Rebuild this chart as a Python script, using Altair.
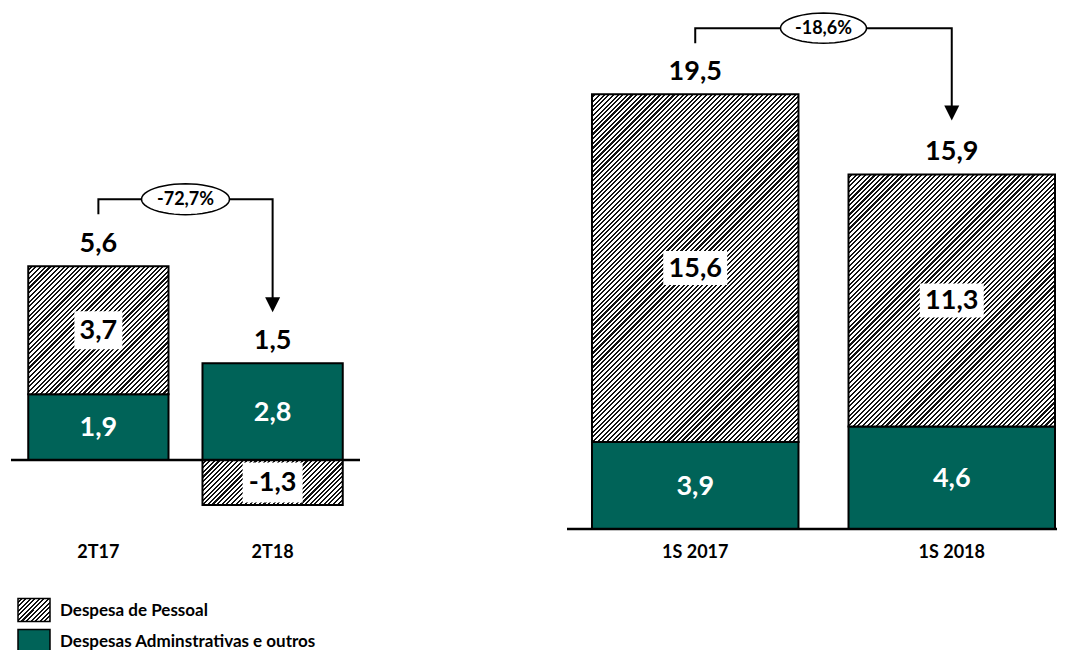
import math
import altair as alt
import pandas as pd

# ---------------- data ----------------
CATS_Q = ["2T17", "2T18"]
ADM_Q = [1.9, 2.8]
PES_Q = [3.7, -1.3]
TOT_Q = [5.6, 1.5]
PCT_Q = "-72,7%"

CATS_S = ["1S 2017", "1S 2018"]
ADM_S = [3.9, 4.6]
PES_S = [15.6, 11.3]
TOT_S = [19.5, 15.9]
PCT_S = "-18,6%"

S_PES = "Despesa de Pessoal"
S_ADM = "Despesas Adminstrativas e outros"

# ---------------- style / layout ----------------
FONT = "Lato"
TEAL = "#006358"
W, H = 1049, 519
PAD = {"left": 0, "top": 2, "right": 0, "bottom": 121}
PIN = 0.195


def fmt(v):
    return f"{v:.1f}".replace(".", ",")


def hatch(w, h, period=3.3, ink=0.45):
    n = max(4, round((w + h) / (math.sqrt(2) * period)))
    c = (1 / h + 1 / w) / (1 / h ** 2 + 1 / w ** 2)
    stops = []
    for i in range(n):
        a, b, e = i / n, (i + 1 - ink) / n, (i + 1) / n
        stops += [
            {"offset": a, "color": "white"},
            {"offset": b, "color": "white"},
            {"offset": b, "color": "#111111"},
            {"offset": e, "color": "#111111"},
        ]
    return {"gradient": "linear", "x1": 0, "y1": 0, "x2": c / h, "y2": c / w, "stops": stops}


def rect_path(aspect):
    return f"M-1,-{aspect}L1,-{aspect}L1,{aspect}L-1,{aspect}Z"


def ellipse_path(aspect, n=48):
    pts = []
    for k in range(n):
        t = 2 * math.pi * k / n
        pts.append(f"{math.cos(t):.4f},{aspect * math.sin(t):.4f}")
    return "M" + "L".join(pts) + "Z"


AX = alt.Axis(title=None, domain=False, ticks=False, tickSize=0, grid=False,
              labelFont=FONT, labelFontSize=18, labelFontWeight="bold",
              labelColor="black", labelPadding=14, labelAngle=0, orient="bottom")


def panel(cats, adm, pes, tot, pct, xr, pout, align, ydom, ppu,
          start_px, rise_px, tip_px, boxes, oval_w, legend=False):
    n = len(cats)
    step = (xr[1] - xr[0]) / (n - PIN + 2 * pout)
    bw = step * (1 - PIN)
    X = alt.X("cat:N", sort=cats,
              scale=alt.Scale(domain=cats, range=xr, paddingInner=PIN,
                              paddingOuter=pout, align=align),
              axis=AX)

    def Y(f):
        return alt.Y(f"{f}:Q", scale=alt.Scale(domain=ydom, nice=False, zero=False), axis=None)

    vals = adm + pes
    df = pd.DataFrame({
        "cat": cats + cats,
        "series": [S_ADM] * n + [S_PES] * n,
        "value": vals,
        "label": [fmt(v) for v in vals],
        "order": [0] * n + [1] * n,
    })
    base = (alt.Chart(df)
            .transform_stack(stack="value", groupby=["cat"], as_=["y0", "y1"],
                             sort=[alt.SortField("order", order="ascending")])
            .transform_calculate(mid="(datum.y0 + datum.y1) / 2"))
    layers = []
    layers.append(base.transform_filter("datum.order == 0")
                  .mark_bar(fill=TEAL, stroke="black", strokeWidth=2)
                  .encode(x=X, y=Y("y0"), y2=alt.Y2("y1")))
    for i, c in enumerate(cats):
        hpx = abs(pes[i]) * ppu
        layers.append(base.transform_filter(f"datum.order == 1 && datum.cat == '{c}'")
                      .mark_bar(fill=hatch(bw, hpx), stroke="black", strokeWidth=2)
                      .encode(x=X, y=Y("y0"), y2=alt.Y2("y1")))
    # zero line
    layers.append(alt.Chart(pd.DataFrame({"z": [0]}))
                  .mark_rule(color="black", strokeWidth=2.5)
                  .encode(y=Y("z"), x=alt.value(xr[0]), x2=alt.value(xr[1])))
    # white boxes behind hatched labels
    for i, c in enumerate(cats):
        bwid, bh = boxes[i]
        layers.append(base.transform_filter(f"datum.order == 1 && datum.cat == '{c}'")
                      .mark_point(shape=rect_path(bh / bwid), size=bwid ** 2, filled=True,
                                  fill="white", strokeWidth=0, opacity=1)
                      .encode(x=X, y=Y("mid")))
    # segment labels
    for o, col in [(0, "white"), (1, "black")]:
        layers.append(base.transform_filter(f"datum.order == {o}")
                      .mark_text(font=FONT, fontSize=27, fontWeight="bold", color=col,
                                 baseline="middle", dy=1)
                      .encode(x=X, y=Y("mid"), text="label:N"))
    # totals
    tops = [max(a, 0) + max(p, 0) for a, p in zip(adm, pes)]
    tdf = pd.DataFrame({"cat": cats, "top": tops, "label": [fmt(v) for v in tot]})
    layers.append(alt.Chart(tdf)
                  .mark_text(font=FONT, fontSize=27, fontWeight="bold", color="black",
                             baseline="alphabetic", dy=-14)
                  .encode(x=X, y=Y("top"), text="label:N"))
    # bracket + arrow
    start = tops[0] + start_px / ppu
    top = start + rise_px / ppu
    tip = tops[1] + tip_px / ppu
    bdf = pd.DataFrame({"cat": [cats[0], cats[0], cats[1], cats[1]],
                        "yv": [start, top, top, tip + 8 / ppu],
                        "seq": [0, 1, 2, 3]})
    layers.append(alt.Chart(bdf)
                  .mark_line(color="black", strokeWidth=2, strokeJoin="miter")
                  .encode(x=X, y=Y("yv"), order="seq:Q"))
    layers.append(alt.Chart(pd.DataFrame({"cat": [cats[1]], "yv": [tip]}))
                  .mark_point(shape="M-1,-2L1,-2L0,0Z", size=225, filled=True,
                              fill="black", strokeWidth=0, opacity=1)
                  .encode(x=X, y=Y("yv")))
    odf = pd.DataFrame({"cat": [cats[0]], "yv": [top], "pct": [pct]})
    layers.append(alt.Chart(odf)
                  .mark_point(shape=ellipse_path(0.35), size=oval_w ** 2, filled=True,
                              fill="white", stroke="black", strokeWidth=1.5, opacity=1,
                              xOffset=step / 2)
                  .encode(x=X, y=Y("yv")))
    layers.append(alt.Chart(odf)
                  .mark_text(font=FONT, fontSize=18, fontWeight="bold", color="black",
                             baseline="middle", xOffset=step / 2, dy=1)
                  .encode(x=X, y=Y("yv"), text="pct:N"))
    if legend:
        items = [(S_PES, hatch(32, 23), 600.0), (S_ADM, TEAL, 631.0)]
        for lab, fill, yy in items:
            ldf = pd.DataFrame({"t": [lab]})
            layers.append(alt.Chart(ldf)
                          .mark_point(shape=rect_path(0.72), size=32 ** 2, filled=True,
                                      fill=fill, stroke="black", strokeWidth=1.5, opacity=1)
                          .encode(x=alt.value(26), y=alt.value(yy)))
            layers.append(alt.Chart(ldf)
                          .mark_text(font=FONT, fontSize=17, fontWeight="bold", color="black",
                                     align="left", baseline="middle")
                          .encode(x=alt.value(52), y=alt.value(yy + 1), text="t:N"))
    return alt.layer(*layers)


left = panel(CATS_Q, ADM_Q, PES_Q, TOT_Q, PCT_Q, xr=[3, 352], pout=0.099, align=0.5,
             ydom=[-1.994, 13.006], ppu=34.6, start_px=52, rise_px=15, tip_px=51,
             boxes=[(48, 38), (60, 40)], oval_w=88, legend=True)
right = panel(CATS_S, ADM_S, PES_S, TOT_S, PCT_S, xr=[559, 1049], pout=0.0526, align=0.926,
              ydom=[0, 23.274], ppu=22.3, start_px=51, rise_px=15, tip_px=54,
              boxes=[(64, 34), (64, 34)], oval_w=86)

chart = (alt.layer(left, right)
         .resolve_scale(x="independent", y="independent")
         .properties(width=W, height=H, padding=PAD,
                     autosize=alt.AutoSizeParams(type="none"))
         .configure(font=FONT, view=alt.ViewConfig(stroke=None)))

chart.save("out.html", embed_options={"renderer": "svg", "actions": False})
